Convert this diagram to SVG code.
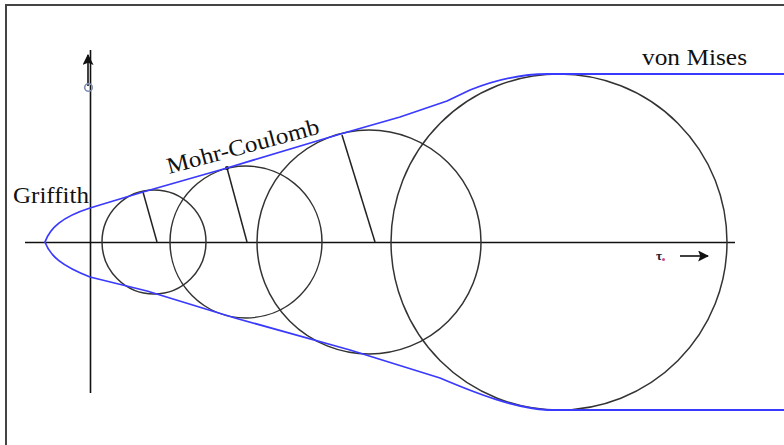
<svg xmlns="http://www.w3.org/2000/svg" width="784" height="445" viewBox="0 0 784 445">
<defs>
<style>
.circ{fill:none;stroke:#333;stroke-width:1.5}
.rad{stroke:#222;stroke-width:1.5}
.axis{stroke:#111;stroke-width:1.6}
.env{fill:none;stroke:#3a3aff;stroke-width:1.8;stroke-linejoin:round}
.lbl{font-family:"Liberation Serif","Times New Roman",serif;font-size:23px;fill:#111}
</style>
<marker id="ah" viewBox="0 0 10 10" refX="9" refY="5" markerWidth="11" markerHeight="11" markerUnits="userSpaceOnUse" orient="auto">
<path d="M0,0 L10,5 L0,10 L2,5 Z" fill="#111"/>
</marker>
</defs>
<rect width="784" height="445" fill="#fff"/>
<g id="frame">
<path d="M6,445 V5 H784" fill="none" stroke="#444" stroke-width="2"/>
</g>
<g id="connectors">
<line class="axis" x1="25" y1="242.5" x2="735" y2="242.5"/>
<line class="axis" x1="90.5" y1="50" x2="90.5" y2="393"/>
<line class="axis" x1="88" y1="86" x2="88" y2="55" marker-end="url(#ah)"/>
<line class="axis" x1="680" y1="256" x2="708" y2="256" marker-end="url(#ah)"/>
</g>
<g id="axis-labels">
<circle cx="88.5" cy="87.5" r="3.8" fill="none" stroke="#7f8fb0" stroke-width="1.6"/>
<text x="656" y="260" font-family="'Liberation Serif',serif" font-size="13" font-weight="bold" fill="#223">τ</text>
<circle cx="663.5" cy="259.5" r="1.5" fill="#d04a80"/>
</g>
<g id="circle1">
<circle class="circ" cx="154" cy="242" r="52"/>
<line class="rad" x1="143" y1="192" x2="157" y2="242"/>
</g>
<g id="circle2">
<circle class="circ" cx="246" cy="242" r="76" stroke="#111" stroke-width="2"/>
<line class="rad" x1="227" y1="168" x2="247" y2="242"/>
<circle cx="227" cy="168" r="2" fill="#111"/>
</g>
<g id="circle3">
<circle class="circ" cx="369" cy="242" r="112"/>
<line class="rad" x1="342" y1="135" x2="375" y2="242"/>
</g>
<g id="circle4">
<circle class="circ" cx="559" cy="242" r="168"/>
</g>
<g id="envelope">
<path class="env" d="M784,74 H548 C520,74 495,80 470,90 L447,101 L400,117 L337,135 L227,168 L143,192 L90,208 C62,217 50,228 45,242 C50,256 62,266 90,277 L147,291 L235,318 L350,350 L440,378 C480,395 515,408 548,410 H784"/>
</g>
<g id="labels">
<text class="lbl" x="13" y="203" textLength="76" lengthAdjust="spacingAndGlyphs">Griffith</text>
<text class="lbl" x="642" y="65" textLength="105" lengthAdjust="spacingAndGlyphs">von Mises</text>
<text class="lbl" transform="translate(169,174) rotate(-15)" textLength="157" lengthAdjust="spacingAndGlyphs">Mohr-Coulomb</text>
</g>
</svg>
